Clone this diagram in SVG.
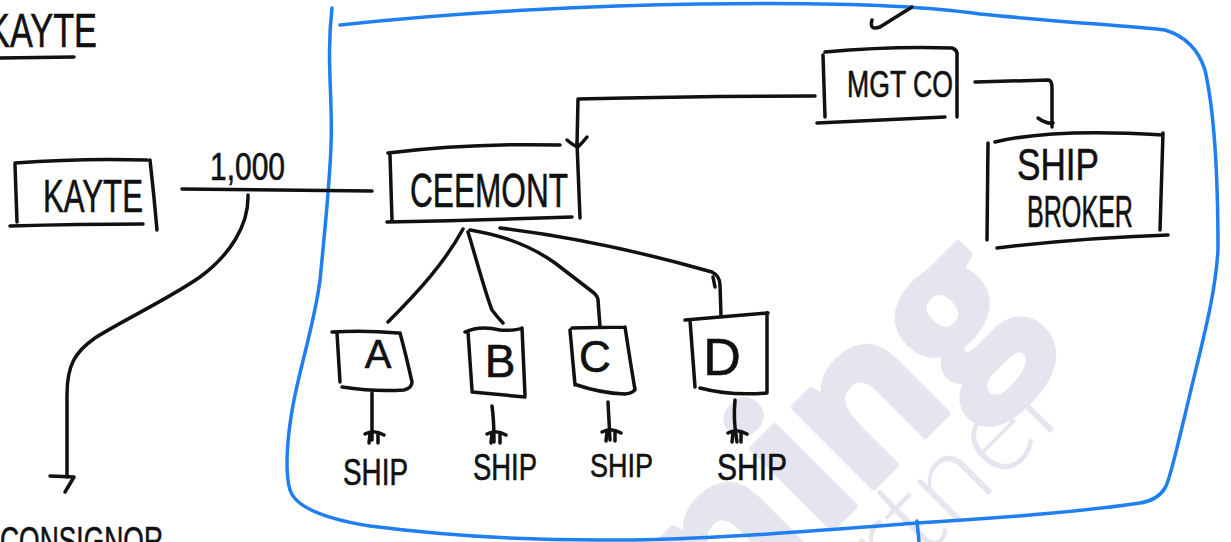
<svg xmlns="http://www.w3.org/2000/svg" xmlns:xlink="http://www.w3.org/1999/xlink" width="1231" height="542" viewBox="0 0 1231 542">
  <defs>
    <style>
      .ink{fill:none;stroke:#111;stroke-width:3.5;stroke-linecap:round;stroke-linejoin:round}
      .blue{fill:none;stroke:#1f7ff0;stroke-width:3.5;stroke-linecap:round;stroke-linejoin:round}
      .hand{font-family:"Liberation Sans",Arial,sans-serif;fill:#111;stroke:#111;stroke-width:0.6}
      .wm{fill:#e4e5ee;stroke:#e4e5ee;stroke-width:7;stroke-linejoin:round;font-family:"Open Sans","Liberation Sans",sans-serif;font-weight:700;font-size:205px}
      .wm2{fill:#e4e5ee;font-family:"Lato","Open Sans","Liberation Sans",sans-serif;font-weight:300;font-size:120px}
    </style>
    <g id="tip" class="ink">
      <path d="M-9,-3 Q0,-8 10,-2 M-4,-3 L-5,6 M4,-3 L4,6"/>
    </g>
  </defs>
  <rect width="1231" height="542" fill="#ffffff"/>

  <g id="watermark">
    <g transform="translate(-14,14)">
      <text class="wm" text-anchor="middle" transform="translate(786,574) rotate(-45)">n</text>
      <text class="wm" text-anchor="middle" transform="translate(857,503) rotate(-45)">i</text>
      <text class="wm" text-anchor="middle" transform="translate(924,436) rotate(-45)">n</text>
      <text class="wm" text-anchor="middle" transform="translate(1012,348) rotate(-45)">g</text>
    </g>
    <text class="wm2" transform="translate(893,590) rotate(-45)">rtner"</text>
  </g>

  <g id="boundary">
    <path class="blue" d="M340,25 C460,12 600,5 700,4 C820,2 920,5 980,14 C1060,22 1130,26 1165,30 C1185,36 1198,48 1205,70 C1214,110 1218,170 1218,250 C1215,300 1200,350 1185,415 C1175,455 1170,480 1165,488 Q1158,500 1140,503 C1080,512 1000,518 917,523 C800,532 700,540 620,540 C520,541 440,535 370,526 C320,518 295,506 290,490 C284,470 288,430 294,400 C302,360 315,320 320,280 C325,230 330,180 331,145 C333,100 326,60 332,8"/>
    <path class="blue" d="M917,521 L919,542"/>
  </g>

  <g id="title">
    <text class="hand" x="-13" y="47" font-size="48" textLength="110" lengthAdjust="spacingAndGlyphs">KAYTE</text>
    <path class="ink" d="M0,58 L74,57" stroke-width="4"/>
  </g>

  <g id="node-kayte">
    <path class="ink" d="M15,163 Q80,158 147,160 M15,165 L17,222 M10,226 Q80,224 143,224 M150,160 Q154,195 157,230"/>
    <text class="hand" x="43" y="212" font-size="46" textLength="100" lengthAdjust="spacingAndGlyphs">KAYTE</text>
  </g>

  <g id="node-ceemont">
    <path class="ink" d="M388,153 Q470,143 560,145 M390,155 L392,220 M387,222 Q480,220 572,217 M577,143 L580,218"/>
    <text class="hand" x="410" y="207" font-size="48" textLength="158" lengthAdjust="spacingAndGlyphs">CEEMONT</text>
  </g>

  <g id="node-mgtco">
    <path class="ink" d="M825,52 Q890,46 952,48 Q958,50 957,56 L957,117 M823,55 L825,117 M817,123 Q880,120 945,117"/>
    <text class="hand" x="847" y="97" font-size="36" textLength="106" lengthAdjust="spacingAndGlyphs">MGT CO</text>
  </g>

  <g id="node-shipbroker">
    <path class="ink" d="M995,142 Q1053,128 1163,135 M988,143 L987,240 M1163,133 L1160,230 M997,248 Q1080,238 1168,235"/>
    <text class="hand" x="1017" y="180" font-size="44" textLength="82" lengthAdjust="spacingAndGlyphs">SHIP</text>
    <text class="hand" x="1027" y="227" font-size="44" textLength="106" lengthAdjust="spacingAndGlyphs">BROKER</text>
  </g>

  <g id="node-a">
    <path class="ink" d="M332,332 Q365,330 398,333 M337,333 L340,382 M400,333 Q406,355 412,382 M342,387 Q375,392 404,390 Q412,388 412,382"/>
    <text class="hand" x="378" y="368" font-size="40" text-anchor="middle">A</text>
  </g>
  <g id="node-b">
    <path class="ink" d="M465,332 Q480,325 500,330 Q515,331 522,328 M468,332 L472,390 M522,328 L525,395 M472,392 L525,397"/>
    <text class="hand" x="500" y="377" font-size="46" text-anchor="middle">B</text>
  </g>
  <g id="node-c">
    <path class="ink" d="M572,328 L625,327 M570,330 L575,385 M625,327 Q630,360 635,390 M577,385 Q600,393 625,394 Q635,393 635,388"/>
    <text class="hand" x="595" y="372" font-size="44" text-anchor="middle">C</text>
  </g>
  <g id="node-d">
    <path class="ink" d="M685,320 L768,313 M690,320 L695,387 M767,313 L767,392 M700,388 Q730,396 767,393"/>
    <text class="hand" x="722" y="375" font-size="52" text-anchor="middle">D</text>
  </g>

  <g id="ship-labels">
    <text class="hand" x="343" y="485" font-size="36" textLength="65" lengthAdjust="spacingAndGlyphs">SHIP</text>
    <text class="hand" x="473" y="480" font-size="36" textLength="64" lengthAdjust="spacingAndGlyphs">SHIP</text>
    <text class="hand" x="590" y="477" font-size="34" textLength="63" lengthAdjust="spacingAndGlyphs">SHIP</text>
    <text class="hand" x="717" y="480" font-size="36" textLength="70" lengthAdjust="spacingAndGlyphs">SHIP</text>
  </g>

  <g id="consignee">
    <text class="hand" x="0" y="554" font-size="38" textLength="163" lengthAdjust="spacingAndGlyphs">CONSIGNOR</text>
  </g>

  <g id="connectors">
    <path class="ink" d="M182,189 L372,191"/>
    <text class="hand" x="210" y="180" font-size="38" textLength="75" lengthAdjust="spacingAndGlyphs">1,000</text>
    <path class="ink" d="M248,195 C249,225 230,255 200,277 C170,298 120,322 95,338 C75,352 67,365 67,395 L67,477"/>
    <path class="ink" d="M50,476 L74,477 L65,492"/>
    <path class="ink" d="M815,96 Q700,96 578,99 L577,145"/>
    <path class="ink" d="M567,140 Q574,146 578,147 Q583,142 587,137"/>
    <path class="ink" d="M975,82 L1048,80 Q1052,80 1052,88 L1052,127"/>
    <path class="ink" d="M1038,118 Q1046,124 1053,123"/>
    <path class="ink" d="M463,229 C445,262 420,290 388,322"/>
    <path class="ink" d="M468,232 C478,265 486,295 492,310 Q498,318 503,323"/>
    <path class="ink" d="M470,230 Q520,238 555,263 L594,293 Q598,297 598,300 L600,327"/>
    <path class="ink" d="M500,228 Q600,240 712,272 Q720,276 720,285 L721,316 M713,277 L715,287"/>
    <path class="ink" d="M372,393 L372,440"/>
    <use href="#tip" xlink:href="#tip" x="374" y="437"/>
    <path class="ink" d="M492,406 Q494,420 494,442"/>
    <use href="#tip" xlink:href="#tip" x="496" y="437"/>
    <path class="ink" d="M608,402 L610,440"/>
    <use href="#tip" xlink:href="#tip" x="611" y="435"/>
    <path class="ink" d="M735,400 Q733,420 737,442"/>
    <use href="#tip" xlink:href="#tip" x="737" y="436"/>
    <path class="ink" d="M872,20 Q869,31 880,27 L912,7"/>
  </g>
</svg>
